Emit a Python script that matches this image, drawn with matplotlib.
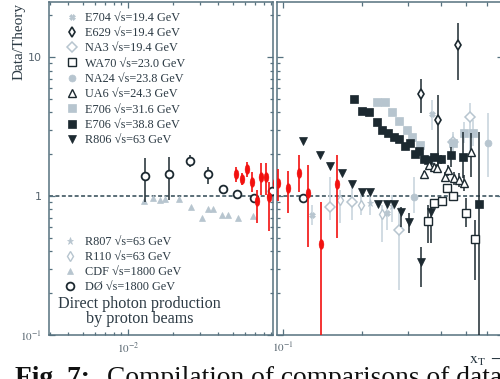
import numpy as np
import matplotlib
matplotlib.use("Agg")
import matplotlib.pyplot as plt
from matplotlib.lines import Line2D
from matplotlib.path import Path
from matplotlib.ticker import FixedLocator, FixedFormatter, NullFormatter

plt.rcParams['mathtext.fontset'] = 'stix'

# ---------------------------------------------------------------- data
# Direct-photon Data/Theory ratios versus x_T
d0_x = [0.0130, 0.01875, 0.0259, 0.0340, 0.0432, 0.0531, 0.0695, 0.0908, 0.1189]
d0_y = [1.40, 1.44, 1.79, 1.44, 1.12, 1.03, 0.97, 1.09, 0.963]
d0_lo = [0.91, 0.936, 1.62, 1.23, 1.07, 0.99, 0.94, 1.05, 0.93]
d0_hi = [1.87, 1.92, 1.97, 1.62, 1.17, 1.07, 1.00, 1.13, 0.99]

cdf_x = [0.01284, 0.01476, 0.01634, 0.01765, 0.0219, 0.0263, 0.0310, 0.0340,
         0.0371, 0.0421, 0.0467, 0.0544, 0.0685]
cdf_y = [0.925, 0.962, 0.936, 0.947, 0.947, 0.838, 0.691, 0.806, 0.806, 0.730,
         0.730, 0.691, 0.722]

red_x = [0.0525, 0.0573, 0.0624, 0.0674, 0.0724, 0.0774, 0.0828, 0.0875, 0.0955,
         0.1047, 0.1150, 0.1249, 0.1400, 0.1603]
red_y = [1.43, 1.32, 1.56, 1.27, 0.92, 1.36, 1.36, 0.98, 1.25, 1.14, 1.46, 1.046,
         0.45, 1.23]
red_lo = [1.26, 1.20, 1.37, 1.07, 0.64, 1.02, 1.02, 0.56, 0.92, 0.76, 1.07, 0.43,
          0.05, 0.50]
red_hi = [1.62, 1.46, 1.76, 1.49, 1.10, 1.73, 1.73, 1.26, 1.56, 1.52, 1.97, 1.67,
          0.91, 1.97]

r806_x = [0.1195, 0.1384, 0.1510, 0.1675, 0.1829, 0.1997, 0.2148, 0.2310, 0.2487,
          0.2653, 0.2812, 0.3034, 0.3363, 0.3670]
r806_y = [2.49, 1.97, 1.64, 1.46, 1.23, 1.07, 1.07, 0.876, 0.876, 0.876, 0.771,
          0.653, 0.335, 0.771]
r806_lo = [2.40, 1.90, 1.58, 1.41, 1.19, 1.04, 1.04, 0.85, 0.85, 0.85, 0.60,
           0.542, 0.222, 0.459]
r806_hi = [2.58, 2.04, 1.70, 1.51, 1.27, 1.10, 1.10, 0.90, 0.90, 0.90, 0.84,
           0.755, 0.432, 0.838]

e38_x = [0.1866, 0.2008, 0.2129, 0.2279, 0.2393, 0.2522, 0.2653, 0.2772, 0.2921,
         0.3053, 0.3191, 0.3313, 0.3452, 0.3586, 0.3770, 0.4019, 0.4366, 0.4852,
         0.5599]
e38_y = [4.99, 4.09, 4.00, 3.39, 2.98, 2.83, 2.64, 2.57, 2.29, 2.42, 2.00, 2.11,
         1.85, 1.82, 1.92, 1.84, 1.98, 1.90, 0.872]
e38_lo = [4.85, 3.98, 3.89, 3.30, 2.90, 2.75, 2.56, 2.49, 2.21, 2.34, 1.93, 2.03,
          1.77, 1.74, 1.82, 1.70, 1.62, 1.35, 0.05]
e38_hi = [5.13, 4.20, 4.11, 3.48, 3.06, 2.91, 2.72, 2.65, 2.37, 2.50, 2.07, 2.19,
          1.93, 1.90, 2.02, 1.98, 2.26, 2.90, 2.90]

e31_x = [0.2291, 0.2460, 0.2611, 0.2760, 0.2965, 0.3112, 0.3333, 0.4467, 0.4907,
         0.5325]
e31_y = [4.73, 4.73, 4.02, 3.46, 3.00, 2.64, 2.33, 2.42, 2.85, 2.85]
e31_lo = [4.60, 4.60, 3.90, 3.35, 2.90, 2.55, 2.20, 2.10, 2.40, 2.30]
e31_hi = [4.86, 4.86, 4.14, 3.57, 3.10, 2.73, 2.46, 2.80, 3.40, 3.50]

e629_x = [0.3363, 0.3889, 0.4667]
e629_y = [5.42, 3.55, 12.2]
e629_lo = [3.94, 1.49, 6.83]
e629_hi = [6.91, 5.33, 17.5]

wa70_x = [0.3566, 0.3780, 0.4056, 0.4238, 0.4443, 0.4980, 0.5404]
wa70_y = [0.664, 0.895, 0.925, 1.14, 1.00, 0.751, 0.488]
wa70_lo = [0.457, 0.87, 0.90, 1.11, 0.97, 0.601, 0.249]
wa70_hi = [0.862, 0.92, 0.95, 1.17, 1.03, 0.967, 0.672]

ua6_x = [0.3452, 0.3607, 0.3770, 0.3870, 0.4150, 0.4276, 0.4475, 0.4688, 0.4895,
         0.5233]
ua6_y = [1.44, 1.67, 1.63, 1.60, 1.38, 1.54, 1.34, 1.31, 1.25, 2.07]
ua6_lo = [1.36, 1.58, 1.54, 1.50, 1.26, 1.40, 1.20, 1.16, 1.08, 1.38]
ua6_hi = [1.52, 1.76, 1.72, 1.70, 1.50, 1.68, 1.48, 1.46, 1.42, 2.84]

na3_x = [0.1511, 0.1829, 0.2780, 0.3672, 0.4467, 0.5173]
na3_y = [0.829, 0.910, 0.569, 1.82, 2.46, 3.72]
na3_lo = [0.672, 0.672, 0.211, 1.60, 2.10, 2.04]
na3_hi = [1.38, 1.166, 0.838, 2.05, 2.90, 4.67]

r110_x = [0.1651, 0.1984, 0.2379]
r110_y = [0.936, 0.861, 0.742]
r110_lo = [0.639, 0.730, 0.467]
r110_hi = [1.104, 1.104, 0.861]

e704_x = [0.1287, 0.2495, 0.3695]
e704_y = [0.730, 0.755, 3.89]
e704_lo = [0.618, 0.569, 2.98]
e704_hi = [0.861, 0.936, 4.90]

r807_x = [0.2148, 0.2600]
r807_y = [0.890, 0.848]
r807_lo = [0.730, 0.650]
r807_hi = [1.104, 1.017]

na24_x = [0.3148, 0.6075]
na24_y = [0.988, 2.39]
na24_lo = [0.751, 1.38]
na24_hi = [1.38, 3.96]

legend_top = ["E704 \u221as=19.4 GeV", "E629 \u221as=19.4 GeV", "NA3 \u221as=19.4 GeV",
              "WA70 \u221as=23.0 GeV", "NA24 \u221as=23.8 GeV", "UA6 \u221as=24.3 GeV",
              "E706 \u221as=31.6 GeV", "E706 \u221as=38.8 GeV", "R806 \u221as=63 GeV"]
legend_bottom = ["R807 \u221as=63 GeV", "R110 \u221as=63 GeV", "CDF \u221as=1800 GeV",
                 "D\u00d8 \u221as=1800 GeV"]

# ---------------------------------------------------------------- styling
W, H, DPI = 500, 379, 100
DARK = '#1c2930'
LIGHT = '#b7c5cf'
LIGHT_ERR = '#cad6de'
SPINE = '#56717f'
TXT = '#2c3a44'
TICKTXT = '#56646e'
RED = '#f2110f'
SERIF = ['Liberation Serif', 'DejaVu Serif']

ell_t = np.linspace(0, 2 * np.pi, 40)
ELLIPSE = Path(np.c_[0.5 * np.cos(ell_t), np.sin(ell_t)])

styles = {
    'E704': dict(marker='X', ms=4.2, mfc=LIGHT, mec=LIGHT, mew=0.5),
    'E629': dict(marker='d', ms=5.5, mfc='white', mec=DARK, mew=1.2),
    'NA3': dict(marker='D', ms=4.6, mfc='white', mec=LIGHT, mew=1.1),
    'WA70': dict(marker='s', ms=5.8, mfc='white', mec=DARK, mew=1.0),
    'NA24': dict(marker='o', ms=5.0, mfc=LIGHT, mec=LIGHT, mew=0.5),
    'UA6': dict(marker='^', ms=6.2, mfc='white', mec=DARK, mew=1.0),
    'E706a': dict(marker='s', ms=5.2, mfc=LIGHT, mec=LIGHT, mew=0.5),
    'E706b': dict(marker='s', ms=5.4, mfc=DARK, mec=DARK, mew=0.5),
    'R806': dict(marker='v', ms=5.6, mfc=DARK, mec=DARK, mew=0.5),
    'R807': dict(marker='*', ms=5.2, mfc=LIGHT, mec=LIGHT, mew=0.5),
    'R110': dict(marker='d', ms=4.6, mfc='white', mec=LIGHT, mew=1.0),
    'CDF': dict(marker='^', ms=4.8, mfc=LIGHT, mec=LIGHT, mew=0.5),
    'D0': dict(marker='o', ms=5.6, mfc='white', mec=DARK, mew=1.3),
}


def px_rect(x0, x1, y0, y1):
    return [x0 / W, 1 - y1 / H, (x1 - x0) / W, (y1 - y0) / H]


fig = plt.figure(figsize=(W / DPI, H / DPI), dpi=DPI)
fig.patch.set_facecolor('white')

ax_lo = fig.add_axes(px_rect(49, 273, 1.5, 335))
ax_hi = fig.add_axes(px_rect(277, 503, 1.5, 335))
axes = [ax_lo, ax_hi]

ax_lo.set_xlim(0.00297, 0.0925)
ax_hi.set_xlim(0.0948, 0.691)

for ax in axes:
    ax.set_xscale('log')
    ax.set_yscale('log')
    ax.set_ylim(0.1, 25.1)
    for s in ax.spines.values():
        s.set_color(SPINE)
        s.set_linewidth(1.1)
    ax.tick_params(which='both', direction='in', top=True, right=True,
                   color=SPINE, width=0.9, labelcolor=TICKTXT, labelsize=8,
                   labelfontfamily='DejaVu Sans')
    ax.tick_params(which='major', length=4.5)
    ax.tick_params(which='minor', length=2.4)
    ax.yaxis.set_major_locator(FixedLocator([0.1, 1, 10]))
    ax.yaxis.set_minor_locator(FixedLocator(
        [m * 10.0 ** e for e in (-1, 0, 1) for m in range(2, 10)]))
    ax.yaxis.set_minor_formatter(NullFormatter())
    ax.axhline(1.0, color='#2e4652', lw=1.1, dashes=(2.6, 1.6), zorder=1)

ax_lo.yaxis.set_major_formatter(FixedFormatter([r'$10^{-1}$', '1', '10']))
ax_lo.tick_params(axis='y', pad=5.5)
ax_hi.yaxis.set_major_formatter(NullFormatter())

ax_lo.xaxis.set_major_locator(FixedLocator([0.01]))
ax_lo.xaxis.set_major_formatter(FixedFormatter([r'$10^{-2}$']))
ax_lo.xaxis.set_minor_locator(FixedLocator(
    [m * 10.0 ** e for e in (-3, -2) for m in range(2, 10)]))
ax_lo.xaxis.set_minor_formatter(NullFormatter())

ax_hi.xaxis.set_major_locator(FixedLocator([0.1]))
ax_hi.xaxis.set_major_formatter(FixedFormatter([r'$10^{-1}$']))
ax_hi.xaxis.set_minor_locator(FixedLocator([m * 0.1 for m in range(2, 10)]))
ax_hi.xaxis.set_minor_formatter(NullFormatter())
ax_hi.tick_params(which='minor', axis='x', length=3.2)
for ax in axes:
    ax.tick_params(axis='x', pad=4)


def series(x, y, lo=None, hi=None, style=None, ecolor=DARK, elw=1.1, z=3):
    x = np.asarray(x, float)
    y = np.asarray(y, float)
    for ax in axes:
        if lo is not None:
            yerr = [y - np.asarray(lo, float), np.asarray(hi, float) - y]
            ax.errorbar(x, y, yerr=yerr, fmt='none', ecolor=ecolor,
                        elinewidth=elw, capsize=0, zorder=z)
        ax.plot(x, y, ls='none', zorder=z + 0.5, **style)


# pale datasets first, dark ones on top
series(na3_x, na3_y, na3_lo, na3_hi, styles['NA3'], ecolor=LIGHT_ERR, elw=1.2, z=2)
series(r110_x, r110_y, r110_lo, r110_hi, styles['R110'], ecolor=LIGHT_ERR, elw=1.2, z=2)
series(e704_x, e704_y, e704_lo, e704_hi, styles['E704'], ecolor=LIGHT_ERR, elw=1.2, z=2)
series(r807_x, r807_y, r807_lo, r807_hi, styles['R807'], ecolor=LIGHT_ERR, elw=1.2, z=2)
series(na24_x, na24_y, na24_lo, na24_hi, styles['NA24'], ecolor=LIGHT_ERR, elw=1.2, z=2)
series(e31_x, e31_y, e31_lo, e31_hi, styles['E706a'], ecolor=LIGHT_ERR, elw=1.2, z=2)
series(cdf_x, cdf_y, style=styles['CDF'], z=2)

series(r806_x, r806_y, r806_lo, r806_hi, styles['R806'])
series(e38_x, e38_y, e38_lo, e38_hi, styles['E706b'])
series(e629_x, e629_y, e629_lo, e629_hi, styles['E629'])
series(wa70_x, wa70_y, wa70_lo, wa70_hi, styles['WA70'])
series(ua6_x, ua6_y, ua6_lo, ua6_hi, styles['UA6'])
series(d0_x, d0_y, d0_lo, d0_hi, styles['D0'])

series(red_x, red_y, red_lo, red_hi,
       dict(marker=ELLIPSE, ms=7.0, mfc=RED, mec=RED, mew=0.3),
       ecolor=RED, elw=1.2, z=5)

# ---------------------------------------------------------------- legends
top_keys = ['E704', 'E629', 'NA3', 'WA70', 'NA24', 'UA6', 'E706a', 'E706b', 'R806']
bottom_keys = ['R807', 'R110', 'CDF', 'D0']


def legend_rows(keys, labels, mx, tx, base0, step):
    for i, (k, lab) in enumerate(zip(keys, labels)):
        yb = base0 + step * i
        st = dict(styles[k])
        fig.add_artist(Line2D([mx / W], [1 - (yb - 4.2) / H], ls='none',
                              transform=fig.transFigure, **st))
        fig.text(tx / W, 1 - yb / H, lab, ha='left', va='baseline',
                 family=SERIF, size=8.8, color=TXT)


legend_rows(top_keys, legend_top, 72, 85, 20.7, 15.33)
legend_rows(bottom_keys, legend_bottom, 70, 85, 245.0, 15.0)

fig.text(139.5 / W, 1 - 308.3 / H, 'Direct photon production', ha='center',
         va='baseline', family=SERIF, size=11.6, color=TXT)
fig.text(139.5 / W, 1 - 323.3 / H, 'by proton beams', ha='center',
         va='baseline', family=SERIF, size=11.6, color=TXT)

fig.text(19 / W, 1 - 41 / H, 'Data/Theory', rotation=90, ha='center',
         va='center', family=SERIF, size=11, color=TXT)

fig.text(469 / W, 1 - 364 / H, r'$\mathrm{x_T}\ \longrightarrow$', ha='left',
         va='baseline', size=11.5, color=TXT)

fig.text(15 / W, 1 - 385 / H, 'Fig. 7:', ha='left', va='baseline',
         family=SERIF, size=19.8, weight='bold', color='#111111')
fig.text(107 / W, 1 - 385 / H, 'Compilation of comparisons of data',
         ha='left', va='baseline', family=SERIF, size=19.8, color='#111111')

fig.savefig('out.png', dpi=DPI, facecolor='white')
